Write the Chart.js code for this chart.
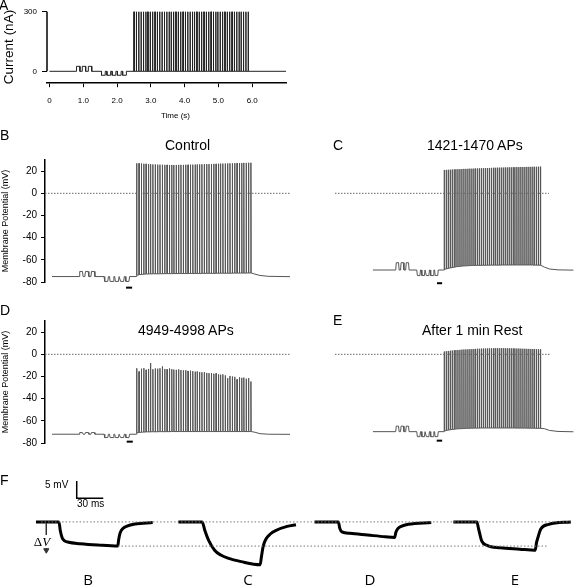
<!DOCTYPE html>
<html>
<head>
<meta charset="utf-8">
<script src="https://cdn.jsdelivr.net/npm/chart.js@4.4.1/dist/chart.umd.min.js"></script>
<style>
  body { margin: 0; background: #fff; }
  #fig { position: relative; width: 576px; height: 587px; overflow: hidden; font-family: "Liberation Sans", Arial, sans-serif; }
  canvas { position: absolute; }
  .t { position: absolute; white-space: nowrap; line-height: 1; color: #000; z-index: 2; }
  .big { font-size: 14px; }
  .small { font-size: 10px; }
  .lab { font-family: "Open Sans", sans-serif; font-size: 15px; transform: translateX(-50%); }
</style>
</head>
<body>
<div id="fig">
  <canvas id="cA" width="300" height="125" style="left:0;top:0"></canvas>
  <canvas id="cB" width="292" height="150" style="left:0;top:150px"></canvas>
  <canvas id="cC" width="286" height="150" style="left:290px;top:150px"></canvas>
  <canvas id="cD" width="292" height="150" style="left:0;top:310px"></canvas>
  <canvas id="cE" width="286" height="150" style="left:290px;top:310px"></canvas>
  <canvas id="cF" width="576" height="110" style="left:0;top:466px"></canvas>

  <div class="t big" style="left:-1px;top:-2px">A</div>
  <div class="t" style="left:9px;top:47px;font-size:13.5px;transform:translate(-50%,-50%) rotate(-90deg)">Current (nA)</div>
  <div class="t" style="left:161px;top:112px;font-size:8px">Time (s)</div>
  <div class="t big" style="left:0;top:128px">B</div>
  <div class="t big" style="left:165px;top:138px">Control</div>
  <div class="t big" style="left:333px;top:138px">C</div>
  <div class="t big" style="left:427px;top:138px">1421-1470 APs</div>
  <div class="t big" style="left:0;top:303px">D</div>
  <div class="t big" style="left:138px;top:323px">4949-4998 APs</div>
  <div class="t big" style="left:333px;top:313px">E</div>
  <div class="t big" style="left:422px;top:323px">After 1 min Rest</div>
  <div class="t big" style="left:0;top:473px">F</div>
  <div class="t small" style="left:45px;top:480px">5 mV</div>
  <div class="t small" style="left:77px;top:499px">30 ms</div>
  <div class="t" style="left:42px;top:535px;transform:translateX(-50%);font-family:'Liberation Serif',serif;font-size:13px;background:#fff;padding:0 1px">&Delta;<i>V</i></div>
  <div class="t lab" style="left:88px;top:572px">B</div>
  <div class="t lab" style="left:248px;top:572px">C</div>
  <div class="t lab" style="left:370px;top:572px">D</div>
  <div class="t lab" style="left:515px;top:572px">E</div>
</div>

<script>
Chart.defaults.font.family = '"Liberation Sans", Arial, sans-serif';
Chart.defaults.color = '#000';

// --- stimulus protocol (s) ---
const posPulseStarts = [0.80, 0.97, 1.15];
const negPulseStarts = [1.54, 1.70, 1.855, 2.01, 2.165];
const posPulseWidth = 0.10;
const negPulseWidth = 0.11;
const spikeTimes = [2.50, 2.57, 2.64, 2.71, 2.78, 2.85, 2.91, 2.98, 3.05, 3.12,
                    3.19, 3.26, 3.33, 3.40, 3.47, 3.54, 3.60, 3.67, 3.74, 3.81,
                    3.88, 3.95, 4.02, 4.09, 4.16, 4.23, 4.29, 4.36, 4.43, 4.50,
                    4.57, 4.64, 4.71, 4.78, 4.85, 4.92, 4.98, 5.05, 5.12, 5.19,
                    5.26, 5.33, 5.40, 5.47, 5.54, 5.61, 5.67, 5.74, 5.81, 5.88];

// --- panel A: injected current (nA) ---
const posCurrent = 25;
const negCurrent = -20;
const stimCurrent = 300;
const stimWidth = 0.006;
const timeTicks = [0, 1, 2, 3, 4, 5, 6];
const currentTicks = [0, 300];

// --- panels B-E: membrane potential (mV), order B, C, D, E ---
const mvTicks = [-80, -60, -40, -20, 0, 20];
const restingV = [-75.0, -69.1, -72.0, -69.7];
const posResp = [4.6, 6.6, 1.5, 5.0];
const negResp = [-4.4, -5.0, -3.0, -4.5];
const barLevel = [-85, -81, -78.7, -77.8];
const barSpans = [[2.19, 2.37], [2.25, 2.43], [2.21, 2.39], [2.24, 2.43]];

const peaksB = [27.0, 27.0, 26.8, 26.6, 26.5, 26.3, 26.2, 26.0, 26.0, 25.8,
                25.8, 25.7, 25.6, 25.6, 25.5, 25.5, 25.5, 25.5, 25.6, 25.6,
                25.6, 25.7, 25.7, 25.8, 25.8, 25.9, 26.0, 26.0, 26.1, 26.2,
                26.2, 26.3, 26.4, 26.5, 26.5, 26.6, 26.7, 26.8, 26.8, 26.9,
                27.0, 27.0, 27.1, 27.2, 27.2, 27.3, 27.4, 27.4, 27.5, 27.5];
const peaksC = [21.0, 21.1, 21.2, 21.3, 21.4, 21.5, 21.6, 21.7, 21.8, 21.9,
                22.0, 22.0, 22.1, 22.2, 22.2, 22.3, 22.4, 22.4, 22.5, 22.6,
                22.6, 22.7, 22.8, 22.8, 22.9, 23.0, 23.0, 23.1, 23.1, 23.2,
                23.2, 23.3, 23.3, 23.4, 23.4, 23.5, 23.5, 23.6, 23.6, 23.7,
                23.7, 23.7, 23.8, 23.8, 23.8, 23.9, 23.9, 23.9, 24.0, 24.0];
const peaksD = [-12.6, -15.5, -13.0, -12.5, -14.0, -13.2, -8.0, -13.5, -12.8, -13.0,
                -12.6, -11.0, -13.2, -13.5, -12.8, -13.4, -13.8, -14.0, -13.6, -14.2,
                -14.5, -14.3, -15.0, -14.8, -15.2, -15.6, -15.4, -16.0, -16.2, -16.0,
                -16.8, -17.0, -16.9, -17.5, -17.2, -18.0, -18.4, -18.1, -19.0, -21.5,
                -19.5, -20.0, -20.3, -22.5, -20.8, -21.2, -21.0, -22.0, -21.5, -24.5];
const peaksE = [2.5, 2.8, 3.0, 3.2, 3.4, 3.6, 3.8, 3.9, 4.0, 4.2,
                4.3, 4.4, 4.5, 4.6, 4.7, 4.8, 4.9, 5.0, 5.0, 5.1,
                5.2, 5.2, 5.3, 5.3, 5.4, 5.4, 5.5, 5.5, 5.5, 5.5,
                5.5, 5.5, 5.4, 5.4, 5.4, 5.3, 5.3, 5.2, 5.2, 5.1,
                5.0, 5.0, 4.9, 4.9, 4.8, 4.8, 4.7, 4.6, 4.6, 4.5];

const troughsB = [-73.6, -73.2, -73.0, -72.8, -72.7, -72.6, -72.6, -72.5, -72.5, -72.5,
                  -72.5, -72.4, -72.4, -72.4, -72.4, -72.4, -72.3, -72.3, -72.3, -72.3,
                  -72.3, -72.3, -72.2, -72.2, -72.2, -72.2, -72.2, -72.2, -72.1, -72.1,
                  -72.1, -72.1, -72.1, -72.1, -72.0, -72.0, -72.0, -72.0, -72.0, -72.0,
                  -72.0, -71.9, -71.9, -71.9, -71.9, -71.9, -71.9, -71.8, -71.8, -71.8];
const troughsC = [-68.3, -67.8, -67.4, -67.0, -66.7, -66.4, -66.1, -65.9, -65.7, -65.5,
                  -65.4, -65.3, -65.2, -65.1, -65.0, -65.0, -64.9, -64.9, -64.9, -64.8,
                  -64.8, -64.8, -64.8, -64.7, -64.7, -64.7, -64.7, -64.7, -64.7, -64.6,
                  -64.6, -64.6, -64.6, -64.6, -64.6, -64.6, -64.6, -64.6, -64.6, -64.6,
                  -64.6, -64.6, -64.6, -64.6, -64.6, -64.7, -64.7, -64.7, -64.8, -64.8];
const troughsD = [-70.6, -70.3, -70.1, -70.0, -69.9, -69.9, -69.8, -69.8, -69.8, -69.7,
                  -69.7, -69.7, -69.7, -69.7, -69.6, -69.6, -69.6, -69.6, -69.6, -69.6,
                  -69.6, -69.6, -69.6, -69.6, -69.6, -69.6, -69.6, -69.6, -69.6, -69.6,
                  -69.6, -69.6, -69.6, -69.6, -69.6, -69.6, -69.6, -69.6, -69.6, -69.6,
                  -69.6, -69.6, -69.6, -69.6, -69.6, -69.6, -69.6, -69.6, -69.6, -69.6];
const troughsE = [-68.8, -68.4, -68.1, -67.8, -67.6, -67.4, -67.2, -67.1, -67.0, -66.9,
                  -66.8, -66.7, -66.7, -66.6, -66.6, -66.5, -66.5, -66.5, -66.4, -66.4,
                  -66.4, -66.4, -66.4, -66.4, -66.4, -66.4, -66.4, -66.4, -66.4, -66.4,
                  -66.4, -66.4, -66.4, -66.4, -66.4, -66.4, -66.5, -66.5, -66.5, -66.5,
                  -66.5, -66.5, -66.6, -66.6, -66.6, -66.6, -66.6, -66.7, -66.7, -66.7];

// [time s, mV] after the train
const recoveryB = [[6.00, -72.8], [6.15, -74.0], [6.40, -74.8], [7.04, -75.1]];
const recoveryC = [[6.02, -66.5], [6.20, -68.2], [6.50, -69.0], [7.04, -69.2]];
const recoveryD = [[6.00, -70.2], [6.15, -71.5], [6.40, -72.0], [7.04, -72.1]];
const recoveryE = [[6.02, -67.0], [6.20, -68.6], [6.50, -69.5], [7.04, -69.8]];

// --- panel F: responses to the last hyperpolarizing pulse, [ms from trace start, mV] ---
const fOffsets = [35, 196, 350, 507];
const fTraceB = [[0, 0], [26, 0], [27.5, -2.5], [29.5, -4.5], [32, -5.4], [37, -5.9], [50, -6.3], [70, -6.7], [92.5, -7.0],
                 [93.5, -5.2], [95, -3.3], [98, -2.0], [103, -1.2], [112, -0.6], [132, -0.2]];
const fTraceC = [[0, 0], [27, 0], [30, -2.5], [34, -5.2], [41, -8.2], [48, -9.6], [56, -10.5], [71, -11.5], [92.5, -12.4],
                 [94, -10.0], [96, -7.0], [99, -5.0], [104, -3.5], [110, -2.5], [123, -1.3], [133, -0.8]];
const fTraceD = [[0, 0], [27, 0], [28.5, -1.8], [31, -2.9], [40, -3.3], [60, -3.8], [80, -4.3], [90.5, -4.5],
                 [92, -3.0], [94, -2.0], [98, -1.3], [106, -0.7], [132, -0.2]];
const fTraceE = [[0, 0], [26.5, 0], [28.5, -2.0], [32, -5.5], [38, -6.8], [53, -7.5], [75, -7.9], [92.5, -8.2],
                 [94, -6.0], [95.5, -4.6], [99, -2.0], [108, -0.7], [133, 0]];
const fBaseSpan = [40.8, 640];
const fDeltaSpan = [127.8, 614];
const fDeltaLevel = -7.0;
const scaleBarMs = 30;
const scaleBarMv = 5;

const noHover = { animation: false, responsive: false, events: [],
                  plugins: { legend: { display: false }, tooltip: { enabled: false } } };

function currentTrace() {
    const pts = [{ x: 0, y: 0 }];
    const square = (s, w, amp) => pts.push({ x: s, y: 0 }, { x: s, y: amp }, { x: s + w, y: amp }, { x: s + w, y: 0 });
    posPulseStarts.forEach(s => square(s, posPulseWidth, posCurrent));
    negPulseStarts.forEach(s => square(s, negPulseWidth, negCurrent));
    spikeTimes.forEach(s => square(s, stimWidth, stimCurrent));
    pts.push({ x: 7.0, y: 0 });
    return pts;
}

function voltageTrace(i, peaks, troughs, recovery) {
    const base = restingV[i];
    const pts = [{ x: 0, y: base }];
    const pulse = (s, w, amp) => pts.push({ x: s, y: base }, { x: s + 0.02, y: base + amp },
                                          { x: s + w, y: base + amp }, { x: s + w + 0.02, y: base });
    posPulseStarts.forEach(s => pulse(s, posPulseWidth, posResp[i]));
    negPulseStarts.forEach(s => pulse(s, negPulseWidth, negResp[i]));
    let prev = base;
    spikeTimes.forEach((t, k) => {
        pts.push({ x: t, y: prev }, { x: t + 0.004, y: peaks[k] }, { x: t + 0.011, y: troughs[k] });
        prev = troughs[k];
    });
    recovery.forEach(([t, v]) => pts.push({ x: t, y: v }));
    return pts;
}

// --- A ---
const xMinA = -0.074;
new Chart(document.getElementById('cA'), {
    type: 'line',
    data: {
        datasets: [
            { data: [{ x: xMinA, y: 0 }, { x: xMinA, y: 300 }], borderColor: '#000', borderWidth: 1.5, pointRadius: 0, clip: false },
            { data: currentTrace(), borderColor: '#222', borderWidth: 1, pointRadius: 0 }
        ]
    },
    options: {
        ...noHover,
        layout: { padding: { left: 0, right: 14, top: 1.8, bottom: 0 } },
        scales: {
            x: {
                type: 'linear', min: xMinA, max: 7.0,
                afterFit: s => { s.height = 41.8; },
                afterBuildTicks: s => { s.ticks = timeTicks.map(v => ({ value: v })); },
                border: { display: true, color: '#000', width: 1.5 },
                grid: { drawOnChartArea: false, color: '#000', tickLength: 4 },
                ticks: { font: { size: 8 }, padding: 9, maxRotation: 0, autoSkip: false,
                         callback: v => v === 0 ? '0' : v.toFixed(1) }
            },
            y: {
                min: -60, max: 310,
                afterFit: s => { s.width = 47; },
                afterBuildTicks: s => { s.ticks = currentTicks.map(v => ({ value: v })); },
                border: { display: false },
                grid: { drawOnChartArea: false, color: '#000', tickLength: 5 },
                ticks: { font: { size: 8 }, padding: 5 }
            }
        }
    }
});

// --- B to E ---
function membraneChart(id, i, trace, view) {
    new Chart(document.getElementById(id), {
        type: 'line',
        data: {
            datasets: [
                { data: [{ x: view.xMin, y: 0 }, { x: view.zeroEnd, y: 0 }], borderColor: '#666', borderWidth: 1,
                  borderDash: [1.5, 1.5], pointRadius: 0 },
                { data: trace, borderColor: '#555', borderWidth: 1, pointRadius: 0 },
                { data: [{ x: barSpans[i][0], y: barLevel[i] }, { x: barSpans[i][1], y: barLevel[i] }],
                  borderColor: '#000', borderWidth: 2, pointRadius: 0, clip: false }
            ]
        },
        options: {
            ...noHover,
            layout: { padding: view.pad },
            scales: {
                x: { type: 'linear', display: false, min: view.xMin, max: view.xMax },
                y: {
                    min: -80, max: 30, display: view.axis,
                    afterFit: s => { s.width = 45; },
                    afterBuildTicks: s => { s.ticks = mvTicks.map(v => ({ value: v })); },
                    border: { color: '#000', width: 1.5 },
                    grid: { drawOnChartArea: false, color: '#000', tickLength: 4 },
                    ticks: { font: { size: 10 }, padding: 4 },
                    title: { display: true, text: 'Membrane Potential (mV)', font: { size: 9 }, padding: 0 }
                }
            }
        }
    });
}

const leftView = (top, bottom) => ({ axis: true, xMin: -0.207, xMax: 7.04, zeroEnd: 7.04,
                                    pad: { left: 0, right: 2, top: top, bottom: bottom } });
const rightView = (top, bottom, zeroEnd) => ({ axis: false, xMin: -1.331, xMax: 7.13, zeroEnd: zeroEnd,
                                              pad: { left: 0, right: 0, top: top, bottom: bottom } });

membraneChart('cB', 0, voltageTrace(0, peaksB, troughsB, recoveryB), leftView(10, 17.9));
membraneChart('cC', 1, voltageTrace(1, peaksC, troughsC, recoveryC), rightView(10, 17.9, 6.18));
membraneChart('cD', 2, voltageTrace(2, peaksD, troughsD, recoveryD), leftView(11, 16.9));
membraneChart('cE', 3, voltageTrace(3, peaksE, troughsE, recoveryE), rightView(11, 16.9, 6.21));

// --- F ---
const shift = (trace, off) => trace.map(([t, v]) => ({ x: t + off, y: v }));
const dotted = { borderColor: '#777', borderWidth: 1, borderDash: [1.5, 2], pointRadius: 0 };
const thick = { borderColor: '#000', borderWidth: 3, pointRadius: 0, cubicInterpolationMode: 'monotone' };
const sbX = 81.1, sbY = 6.84;

new Chart(document.getElementById('cF'), {
    type: 'line',
    data: {
        datasets: [
            { ...dotted, data: [{ x: fBaseSpan[0], y: 0 }, { x: fBaseSpan[1], y: 0 }] },
            { ...dotted, data: [{ x: fDeltaSpan[0], y: fDeltaLevel }, { x: fDeltaSpan[1], y: fDeltaLevel }] },
            { ...thick, data: shift(fTraceB, fOffsets[0]) },
            { ...thick, data: shift(fTraceC, fOffsets[1]) },
            { ...thick, data: shift(fTraceD, fOffsets[2]) },
            { ...thick, data: shift(fTraceE, fOffsets[3]) },
            { data: [{ x: sbX, y: sbY + scaleBarMv }, { x: sbX, y: sbY }, { x: sbX + scaleBarMs, y: sbY }],
              borderColor: '#000', borderWidth: 1.5, pointRadius: 0 },
            { data: [{ x: 46.7, y: -0.5 }, { x: 46.7, y: -8.2 }], borderColor: '#333', borderWidth: 1,
              pointRadius: [0, 3], pointStyle: 'triangle', rotation: 180, pointBackgroundColor: '#333', pointBorderColor: '#333' }
        ]
    },
    options: {
        ...noHover,
        layout: { padding: 0 },
        scales: {
            x: { type: 'linear', display: false, min: 0, max: 640 },
            y: { display: false, min: -14.21, max: 14.74 }
        }
    }
});
</script>
</body>
</html>
